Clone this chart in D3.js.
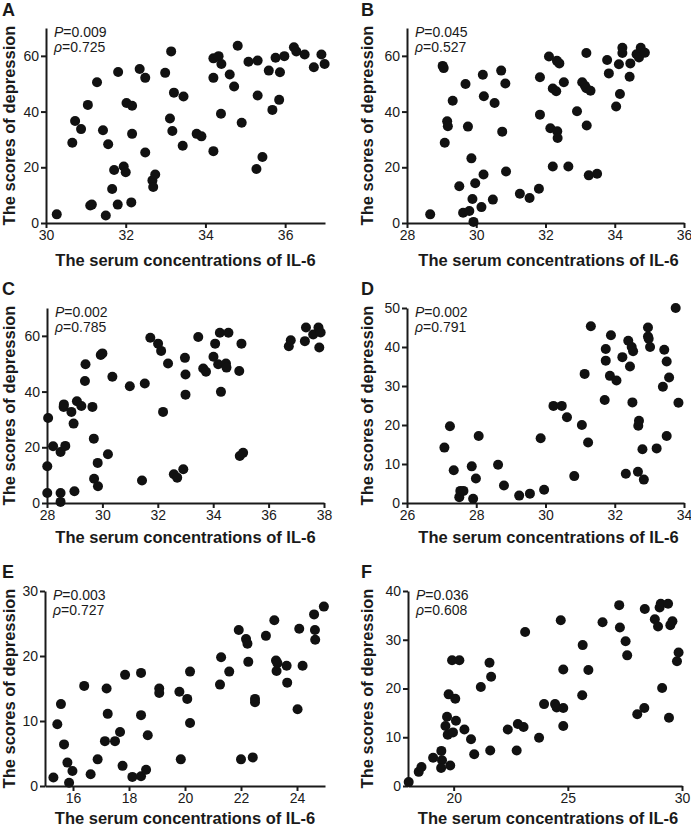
<!DOCTYPE html>
<html>
<head>
<meta charset="utf-8">
<script src="https://cdn.jsdelivr.net/npm/d3@7"></script>
<style>
  body { margin: 0; background: #fff; }
  text { font-family: "Liberation Sans", Arial, sans-serif; fill: #1a1a1a; }
  .axis path, .axis line { stroke: #1a1a1a; stroke-width: 2; }
  .axis text { font-size: 14px; }
  .title { font-size: 16.5px; font-weight: bold; }
  .letter { font-size: 18px; font-weight: bold; }
  .stat { font-size: 14px; }
</style>
</head>
<body>
<div id="chart"></div>
<script>
// panel A
const aX = [30.27,30.66,30.73,30.88,31.05,31.11,31.15,31.28,31.43,31.50,31.56,31.66,31.71,31.81,31.80,31.95,32.00,32.02,32.16,32.14,32.16,32.35,32.49,32.49,32.67,32.69,32.74,32.99,33.11,33.14,33.17,33.21,33.43,33.45,33.78,33.90,34.20,34.20,34.20,34.33,34.40,34.39,34.61,34.72,34.81,34.91,35.08,35.28,35.31,35.31,35.43,35.59,35.68,35.76,35.85,35.87,35.98,36.22,36.28,36.49,36.72,36.91,36.99];
const aY = [3.1,28.8,36.6,33.7,42.4,6.3,6.6,50.5,33.3,2.7,28.3,12.2,19.0,54.2,6.6,20.3,18.2,43.1,42.1,7.4,32.0,55.3,52.1,25.3,15.3,12.9,17.4,53.9,37.5,61.6,33.0,46.8,27.7,45.4,32.0,31.1,25.8,59.1,52.1,59.9,57.1,39.2,53.3,49.0,63.6,36.0,57.9,19.4,58.3,45.8,23.7,54.7,40.6,59.3,44.2,54.1,59.9,63.1,61.6,60.5,55.9,60.5,57.1];

// panel B
const bX = [28.67,29.03,29.06,29.09,29.16,29.18,29.32,29.51,29.62,29.69,29.76,29.80,29.86,29.89,29.92,29.97,30.15,30.19,30.21,30.22,30.48,30.53,30.72,30.75,30.84,30.86,31.26,31.54,31.81,31.84,31.84,32.10,32.14,32.21,32.21,32.31,32.33,32.40,32.34,32.35,32.53,32.66,32.91,33.06,33.14,33.18,33.18,33.19,33.25,33.30,33.49,33.78,33.83,34.04,34.12,34.15,34.22,34.22,34.43,34.45,34.63,34.70,34.75,34.87];
const bY = [3.1,56.4,55.6,28.8,36.5,34.7,43.9,13.2,3.7,49.9,34.6,4.3,23.2,8.6,0.4,14.3,5.7,53.2,17.4,45.5,8.4,43.1,54.7,32.8,50.1,18.5,10.5,9.0,12.3,38.9,52.3,59.8,34.0,20.3,48.3,47.3,58.2,57.3,32.9,30.5,50.5,20.3,40.1,50.5,49.3,61.0,48.4,35.0,17.1,47.5,17.7,58.5,53.7,41.8,57.0,46.3,62.9,61.0,52.5,57.3,60.6,59.4,62.9,61.1];

// panel C
const cX = [28.04,28.01,28.01,28.22,28.49,28.49,28.49,28.60,28.61,28.66,28.88,28.96,28.99,29.08,29.24,29.37,29.39,29.64,29.69,29.70,29.84,29.83,29.94,30.00,30.20,30.36,30.99,31.43,31.53,31.73,32.01,32.12,32.19,32.37,32.58,32.70,32.92,32.98,33.00,33.00,33.46,33.64,33.74,34.01,34.07,34.18,34.24,34.28,34.46,34.48,34.55,34.94,34.96,35.02,35.08,36.73,36.80,37.31,37.35,37.61,37.80,37.83,37.88];
const cY = [30.5,13.2,3.6,20.4,18.3,3.6,0.4,34.5,35.4,20.5,32.7,28.5,4.2,36.5,34.8,43.8,49.8,34.5,23.1,8.7,6.0,14.4,53.1,53.7,17.5,45.3,41.9,8.1,42.9,59.3,57.2,54.6,32.7,50.1,10.3,9.1,12.1,52.1,46.1,38.9,59.6,48.3,47.1,52.5,57.2,49.8,61.1,39.9,50.1,48.6,61.1,47.4,16.9,57.2,18.0,56.3,58.4,58.1,63.0,60.5,63.0,55.8,61.2];

// panel D
const dX = [27.08,27.24,27.35,27.51,27.54,27.63,27.87,27.91,27.99,28.07,28.63,28.80,29.24,29.55,29.86,29.96,30.23,30.47,30.62,30.83,31.05,31.13,31.23,31.31,31.71,31.74,31.74,31.86,31.89,32.05,32.22,32.32,32.39,32.44,32.49,32.53,32.51,32.67,32.68,32.70,32.80,32.84,32.96,32.96,32.98,33.02,33.21,33.39,33.43,33.50,33.50,33.57,33.76,33.84];
const dY = [14.2,19.7,8.4,1.5,3.1,3.1,9.4,1.1,6.3,17.2,9.8,4.5,1.9,2.4,16.6,3.4,24.9,24.9,22.0,6.9,20.0,33.1,15.5,45.3,26.4,36.5,39.5,32.6,43.0,31.4,37.4,7.5,41.6,35.0,40.0,38.9,25.8,8.0,19.8,21.1,13.8,6.0,45.0,42.7,42.1,40.0,14.0,29.8,39.3,36.3,17.2,32.2,50.0,25.7];

// panel E
const eX = [15.30,15.44,15.57,15.68,15.80,15.86,15.98,16.40,16.63,16.88,17.14,17.20,17.24,17.50,17.68,17.77,17.86,18.12,18.43,18.43,18.43,18.61,18.67,19.08,19.08,19.80,19.85,20.08,20.18,20.18,21.25,21.29,21.58,21.92,22.00,22.18,22.23,22.26,22.42,22.50,22.50,22.89,23.19,23.25,23.27,23.30,23.63,23.65,24.02,24.08,24.20,24.61,24.64,24.65,24.96];
const eY = [1.3,9.5,12.6,6.4,3.6,0.5,2.3,15.4,1.8,4.1,6.9,15.0,11.1,6.9,8.3,3.1,17.1,1.4,10.9,17.4,1.5,2.5,7.8,15.0,14.3,14.5,4.1,13.4,9.7,17.6,15.6,19.8,17.6,24.0,4.1,22.6,21.9,19.1,4.4,13.4,12.9,23.1,25.5,19.3,17.7,18.9,18.5,15.9,11.8,24.2,18.5,26.4,24.0,22.5,27.6];

// panel F
const fX = [18.03,18.47,18.59,19.10,19.46,19.49,19.45,19.64,19.71,19.74,19.78,19.85,19.93,19.97,20.07,20.10,20.25,20.47,20.76,20.90,21.19,21.60,21.57,21.64,22.37,22.76,22.81,23.06,23.13,23.74,23.96,24.44,24.51,24.80,24.80,24.80,24.69,25.63,25.65,25.90,26.52,27.25,27.28,27.53,27.60,28.04,28.35,28.37,28.81,28.95,29.02,29.07,29.13,29.39,29.43,29.49,29.58,29.78,29.85];
const fY = [0.8,2.9,3.9,5.8,7.2,5.3,3.7,12.3,14.2,10.5,18.8,4.2,25.8,11.0,17.9,13.4,25.8,11.6,9.6,6.5,20.3,7.3,25.3,22.4,11.6,7.3,12.7,12.1,31.6,9.9,16.8,16.8,16.1,16.0,23.9,12.3,34.0,18.6,28.9,23.8,33.6,37.1,32.5,29.7,26.8,14.7,16.0,36.3,34.2,32.7,36.6,37.4,20.1,37.4,14.0,33.0,33.8,25.6,27.4];

const letters = ["A", "B", "C", "D", "E", "F"];
const pValues = ["0.009", "0.045", "0.002", "0.002", "0.003", "0.036"];
const rhoValues = ["0.725", "0.527", "0.785", "0.791", "0.727", "0.608"];
const xDomains = [[30, 37], [28, 36], [28, 38], [26, 34], [15, 25], [18, 30]];
const yDomains = [[0, 70], [0, 70], [0, 70], [0, 50], [0, 30], [0, 40]];
const xTickVals = [[30, 32, 34, 36], [28, 30, 32, 34, 36], [28, 30, 32, 34, 36, 38], [26, 28, 30, 32, 34], [16, 18, 20, 22, 24], [20, 25, 30]];
const yTickVals = [[0, 20, 40, 60], [0, 20, 40, 60], [0, 20, 40, 60], [0, 10, 20, 30, 40, 50], [0, 10, 20, 30], [0, 10, 20, 30, 40]];
const xData = [aX, bX, cX, dX, eX, fX];
const yData = [aY, bY, cY, dY, eY, fY];

// plot boxes [left, right, top, bottom]
const boxes = [
  [46, 325, 28, 223],
  [407, 684, 28, 223],
  [47, 324, 308, 503],
  [407, 684, 308, 503],
  [45, 325, 591, 786],
  [408, 682, 591, 786]
];
const titleY = [266, 266, 543, 543, 824, 824];
const letterY = [16, 16, 295, 295, 578, 578];

const svg = d3.select('#chart').append('svg')
  .attr('width', 691)
  .attr('height', 828)
  .style('background', '#fff');

boxes.forEach((b, i) => {
  const [left, right, top, bottom] = b;
  const colLeft = left < 200;
  const g = svg.append('g');

  const x = d3.scaleLinear().domain(xDomains[i]).range([left, right]);
  const y = d3.scaleLinear().domain(yDomains[i]).range([bottom, top]);

  g.append('g')
    .attr('class', 'axis')
    .attr('transform', `translate(0,${bottom})`)
    .call(d3.axisBottom(x).tickValues(xTickVals[i]).tickSize(5).tickSizeOuter(0).tickPadding(2).tickFormat(d3.format('d')));

  g.append('g')
    .attr('class', 'axis')
    .attr('transform', `translate(${left},0)`)
    .call(d3.axisLeft(y).tickValues(yTickVals[i]).tickSize(5).tickSizeOuter(0).tickPadding(2).tickFormat(d3.format('d')));

  const pts = xData[i].map((v, k) => ({ x: v, y: yData[i][k] }));
  g.selectAll('.dot')
    .data(pts)
    .enter().append('circle')
    .attr('class', 'dot')
    .attr('cx', d => x(d.x))
    .attr('cy', d => y(d.y))
    .attr('r', 5)
    .attr('fill', '#111');

  // stats
  const st = g.append('text').attr('class', 'stat').attr('x', left + 8).attr('y', top + 9);
  st.append('tspan').style('font-style', 'italic').text('P');
  st.append('tspan').text('=' + pValues[i]);
  const st2 = g.append('text').attr('class', 'stat').attr('x', left + 8).attr('y', top + 24);
  st2.append('tspan').style('font-style', 'italic').text('ρ');
  st2.append('tspan').text('=' + rhoValues[i]);

  // axis titles
  g.append('text')
    .attr('class', 'title')
    .attr('x', (left + right) / 2 + (colLeft ? 0 : 3))
    .attr('y', titleY[i])
    .attr('text-anchor', 'middle')
    .text('The serum concentrations of IL-6');

  g.append('text')
    .attr('class', 'title')
    .attr('transform', `translate(${colLeft ? 15 : 373},${(top + bottom) / 2}) rotate(-90)`)
    .attr('text-anchor', 'middle')
    .text('The scores of depression');

  g.append('text')
    .attr('class', 'letter')
    .attr('x', colLeft ? 2 : 361)
    .attr('y', letterY[i])
    .text(letters[i]);
});
</script>
</body>
</html>
